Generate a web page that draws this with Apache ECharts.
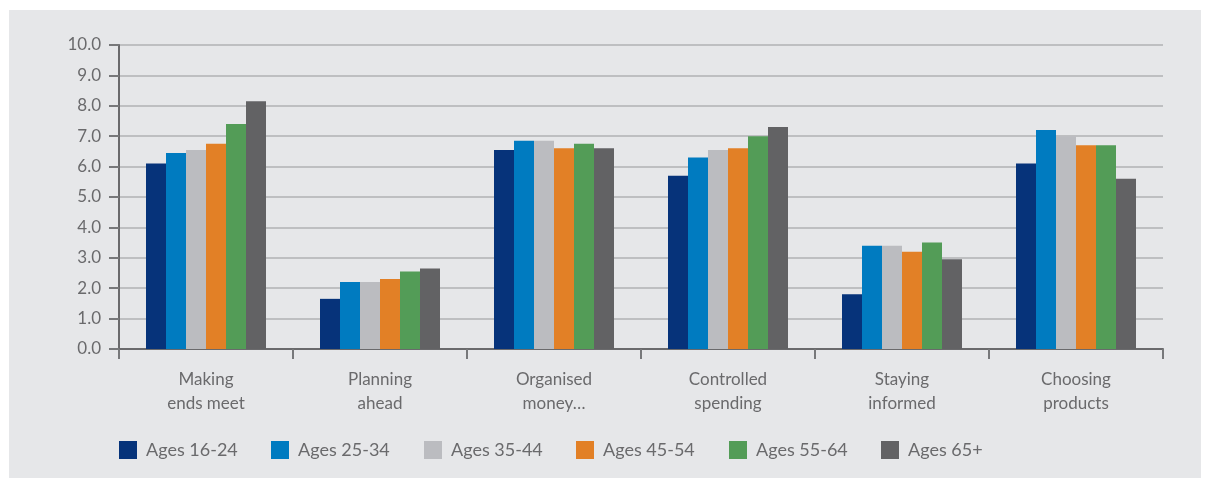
<!DOCTYPE html>
<html><head><meta charset="utf-8">
<script src="https://cdn.jsdelivr.net/npm/echarts@6/dist/echarts.min.js"></script>
<style>html,body{margin:0;padding:0;background:#fff}#c{width:1210px;height:479px}</style>
</head><body><div id="c"></div>
<script>
const categories = ['Making\nends meet','Planning\nahead','Organised\nmoney…','Controlled\nspending','Staying\ninformed','Choosing\nproducts'];
const seriesNames = ['Ages 16-24','Ages 25-34','Ages 35-44','Ages 45-54','Ages 55-64','Ages 65+'];
const ages16_24 = [6.1, 1.65, 6.55, 5.7, 1.8, 6.1];
const ages25_34 = [6.45, 2.2, 6.85, 6.3, 3.4, 7.2];
const ages35_44 = [6.55, 2.2, 6.85, 6.55, 3.4, 7.0];
const ages45_54 = [6.75, 2.3, 6.6, 6.6, 3.2, 6.7];
const ages55_64 = [7.4, 2.55, 6.75, 7.0, 3.5, 6.7];
const ages65p = [8.15, 2.65, 6.6, 7.3, 2.95, 5.6];
const yTicks = {min: 0, max: 10, interval: 1};
const colors = ['#06337A','#007BC0','#BBBCC0','#E28026','#539C57','#626264'];
const allData = [ages16_24, ages25_34, ages35_44, ages45_54, ages55_64, ages65p];
const font = 'Lato, "Open Sans", sans-serif';
const textColor = '#6A6A6C';
const chart = echarts.init(document.getElementById('c'));
chart.setOption({
  animation: false,
  backgroundColor: '#ffffff',
  color: colors,
  graphic: [{type:'rect', z:-10, shape:{x:9,y:10,width:1192,height:468}, style:{fill:'#E6E7E9'}}],
  grid: {left:119, right:47, top:45, bottom:130},
  legend: seriesNames.map((n, i) => ({
    data: [n], left: 119 + Math.round(i * 152.4), top: 441, padding: 0, itemWidth: 18, itemHeight: 18,
    icon: 'rect',
    textStyle: {color: textColor, fontSize: 18, fontFamily: font, padding:[0,0,0,4]}
  })),
  xAxis: {
    type: 'category', data: categories,
    axisLine: {lineStyle: {color: '#6A6A6C', width: 2}},
    axisTick: {show: true, length: 10, lineStyle: {color: '#77787A', width: 2}},
    axisLabel: {color: textColor, fontSize: 17, fontFamily: font, lineHeight: 24, margin: 19}
  },
  yAxis: {
    type: 'value', min: yTicks.min, max: yTicks.max, interval: yTicks.interval,
    axisLine: {show: true, lineStyle: {color: '#6A6A6C', width: 2}},
    axisTick: {show: true, length: 10, lineStyle: {color: '#77787A', width: 2}},
    splitLine: {lineStyle: {color: '#BEBFC1', width: 2}},
    axisLabel: {color: textColor, fontSize: 17, fontFamily: font, margin: 18, formatter: v => v.toFixed(1)}
  },
  series: seriesNames.map((n,i) => ({
    name: n, type: 'bar', data: allData[i], barWidth: 20, barGap: '0%'
  }))
});
</script></body></html>
